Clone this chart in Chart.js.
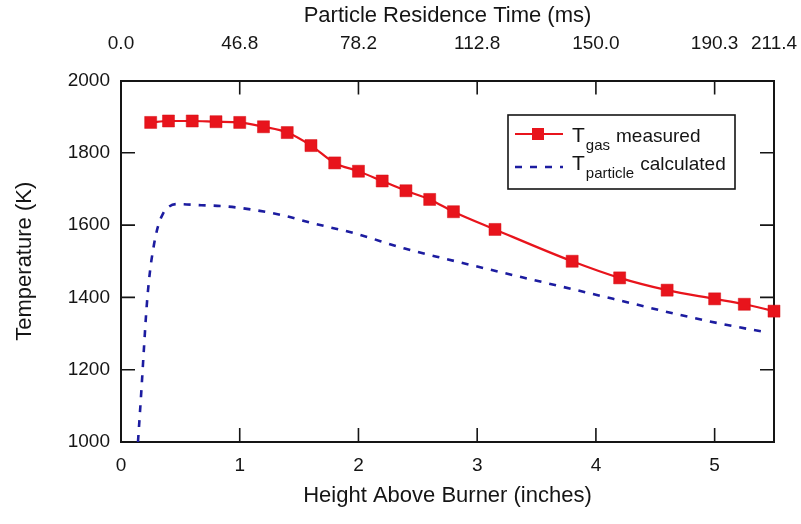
<!DOCTYPE html>
<html>
<head>
<meta charset="utf-8">
<title>Gas and particle temperature</title>
<script src="https://cdn.jsdelivr.net/npm/chart.js@4.4.1/dist/chart.umd.min.js"></script>
<style>
  html, body { margin: 0; padding: 0; background: #fff; }
  #wrap { width: 801px; height: 524px; }
</style>
</head>
<body>
<div id="wrap"><canvas id="tempChart" width="801" height="524"></canvas></div>
<script>
// measured gas temperature vs height above burner (inches)
const gasHeight = [0.25, 0.4, 0.6, 0.8, 1.0, 1.2, 1.4, 1.6, 1.8, 2.0, 2.2, 2.4, 2.6, 2.8, 3.15, 3.8, 4.2, 4.6, 5.0, 5.25, 5.5];
const gasTemp = [1884, 1888, 1888, 1886, 1884, 1872, 1856, 1820, 1772, 1749, 1722, 1695, 1671, 1637, 1588, 1500, 1454, 1420, 1396, 1381, 1362];

// calculated particle temperature
const particleHeight = [0.143, 0.172, 0.194, 0.216, 0.242, 0.27, 0.307, 0.354, 0.40, 0.467, 0.677, 0.874, 1.1, 1.35, 1.604, 1.97, 2.39, 2.755, 3.387, 3.8, 4.145, 4.65, 5.07, 5.44];
const particleTemp = [1000, 1144, 1263, 1374, 1466, 1531, 1591, 1632, 1650, 1658, 1655, 1652, 1643, 1628, 1606, 1577, 1535, 1505, 1455, 1423, 1396, 1356, 1326, 1303];

// axis ticks
const heightTicks = [0, 1, 2, 3, 4, 5];
const residencePos = [0, 1, 2, 3, 4, 5, 5.5];
const residenceLabels = ['0.0', '46.8', '78.2', '112.8', '150.0', '190.3', '211.4'];
const tempTicks = [1000, 1200, 1400, 1600, 1800, 2000];

const FONT = '"Liberation Sans", Arial, sans-serif';
const INK = '#151515';
const RED = '#e8141c';
const BLUE = '#1c1ca0';

// tick marks pointing into the plot on all four sides
const innerTicks = {
  id: 'innerTicks',
  afterDatasetsDraw(chart) {
    const { ctx, chartArea: a, scales } = chart;
    const len = 14;
    ctx.save();
    ctx.strokeStyle = INK;
    ctx.lineWidth = 1.6;
    ctx.beginPath();
    heightTicks.forEach(v => {
      if (v <= 0) return;
      const px = scales.x.getPixelForValue(v);
      ctx.moveTo(px, a.bottom);
      ctx.lineTo(px, a.bottom - len);
    });
    residencePos.forEach(v => {
      if (v <= 0 || v >= 5.5) return;
      const px = scales.xTop.getPixelForValue(v);
      ctx.moveTo(px, a.top);
      ctx.lineTo(px, a.top + len);
    });
    tempTicks.forEach(v => {
      if (v <= 1000 || v >= 2000) return;
      const py = scales.y.getPixelForValue(v);
      ctx.moveTo(a.left, py);
      ctx.lineTo(a.left + len, py);
      const pr = scales.yRight.getPixelForValue(v);
      ctx.moveTo(a.right, pr);
      ctx.lineTo(a.right - len, pr);
    });
    ctx.stroke();
    ctx.restore();
  }
};

// boxed legend with subscripted labels
const boxLegend = {
  id: 'boxLegend',
  afterDraw(chart) {
    const { ctx } = chart;
    const entries = [
      { ds: chart.data.datasets[0], sub: 'gas', text: 'measured', y: 142 },
      { ds: chart.data.datasets[1], sub: 'particle', text: 'calculated', y: 170 }
    ];
    ctx.save();
    ctx.fillStyle = '#fff';
    ctx.fillRect(508, 115, 227, 74);
    ctx.strokeStyle = INK;
    ctx.lineWidth = 1.6;
    ctx.strokeRect(508, 115, 227, 74);

    entries.forEach((e, i) => {
      const ly = i === 0 ? 134 : 167;
      ctx.save();
      ctx.strokeStyle = e.ds.borderColor;
      ctx.lineWidth = e.ds.borderWidth;
      ctx.setLineDash(e.ds.borderDash || []);
      ctx.beginPath();
      ctx.moveTo(515, ly);
      ctx.lineTo(563, ly);
      ctx.stroke();
      ctx.restore();
      if (e.ds.pointRadius > 0) {
        ctx.fillStyle = e.ds.pointBackgroundColor;
        ctx.fillRect(532, ly - 6, 12, 12);
      }
      ctx.fillStyle = INK;
      ctx.textBaseline = 'alphabetic';
      let x = 572;
      ctx.font = '21px ' + FONT;
      ctx.fillText('T', x, e.y);
      x += ctx.measureText('T').width + 1;
      ctx.font = '15px ' + FONT;
      ctx.fillText(e.sub, x, e.y + 8);
      x += ctx.measureText(e.sub).width + 6;
      ctx.font = '19px ' + FONT;
      ctx.fillText(e.text, x, e.y);
    });
    ctx.restore();
  }
};

const tickFont = { family: FONT, size: 19 };
const titleFont = { family: FONT, size: 22 };
const noGrid = { display: false, drawTicks: false };

// keep the plot box fixed: no extra room for overhanging end labels
const noEdgePad = s => { s.paddingLeft = 0; s.paddingRight = 0; s.paddingTop = 0; s.paddingBottom = 0; };

new Chart(document.getElementById('tempChart'), {
  type: 'line',
  data: {
    datasets: [
      {
        label: 'T gas measured',
        data: gasHeight.map((h, i) => ({ x: h, y: gasTemp[i] })),
        borderColor: RED,
        borderWidth: 2.2,
        pointStyle: 'rect',
        pointRadius: 8.5,
        pointBackgroundColor: RED,
        pointBorderColor: '#d41016',
        pointBorderWidth: 0.5,
        cubicInterpolationMode: 'monotone',
        clip: false,
        xAxisID: 'x',
        yAxisID: 'y'
      },
      {
        label: 'T particle calculated',
        data: particleHeight.map((h, i) => ({ x: h, y: particleTemp[i] })),
        borderColor: BLUE,
        borderWidth: 2.6,
        borderDash: [7, 8],
        pointRadius: 0,
        cubicInterpolationMode: 'monotone',
        xAxisID: 'x',
        yAxisID: 'y'
      }
    ]
  },
  options: {
    responsive: false,
    animation: false,
    layout: { padding: 0 },
    plugins: { legend: { display: false }, tooltip: { enabled: false } },
    scales: {
      x: {
        type: 'linear',
        position: 'bottom',
        min: 0,
        max: 5.5,
        afterBuildTicks: s => { s.ticks = heightTicks.map(v => ({ value: v })); },
        afterFit: s => { s.height = 82; noEdgePad(s); },
        grid: noGrid,
        border: { display: true, color: INK, width: 2 },
        ticks: { autoSkip: false, maxRotation: 0, font: tickFont, color: INK, padding: 12, callback: v => String(v) },
        title: { display: true, text: 'Height Above Burner (inches)', font: titleFont, color: INK, padding: { bottom: 15 } }
      },
      xTop: {
        type: 'linear',
        position: 'top',
        min: 0,
        max: 5.5,
        afterBuildTicks: s => { s.ticks = residencePos.map(v => ({ value: v })); },
        afterFit: s => { s.height = 80.5; noEdgePad(s); },
        grid: noGrid,
        border: { display: true, color: INK, width: 2 },
        ticks: { autoSkip: false, maxRotation: 0, font: tickFont, color: INK, padding: 25, callback: v => residenceLabels[residencePos.indexOf(v)] },
        title: { display: true, text: 'Particle Residence Time (ms)', font: titleFont, color: INK, padding: { top: 3 } }
      },
      y: {
        type: 'linear',
        position: 'left',
        min: 1000,
        max: 2000,
        afterBuildTicks: s => { s.ticks = tempTicks.map(v => ({ value: v })); },
        afterFit: s => { s.width = 121; noEdgePad(s); },
        grid: noGrid,
        border: { display: true, color: INK, width: 2 },
        ticks: { font: tickFont, color: INK, padding: 11, callback: v => String(v) },
        title: { display: true, text: 'Temperature (K)', font: titleFont, color: INK, padding: { top: 12 } }
      },
      yRight: {
        type: 'linear',
        axis: 'y',
        position: 'right',
        min: 1000,
        max: 2000,
        afterFit: s => { s.width = 27; noEdgePad(s); },
        grid: noGrid,
        border: { display: true, color: INK, width: 2 },
        ticks: { display: false }
      }
    }
  },
  plugins: [innerTicks, boxLegend]
});
</script>
</body>
</html>
